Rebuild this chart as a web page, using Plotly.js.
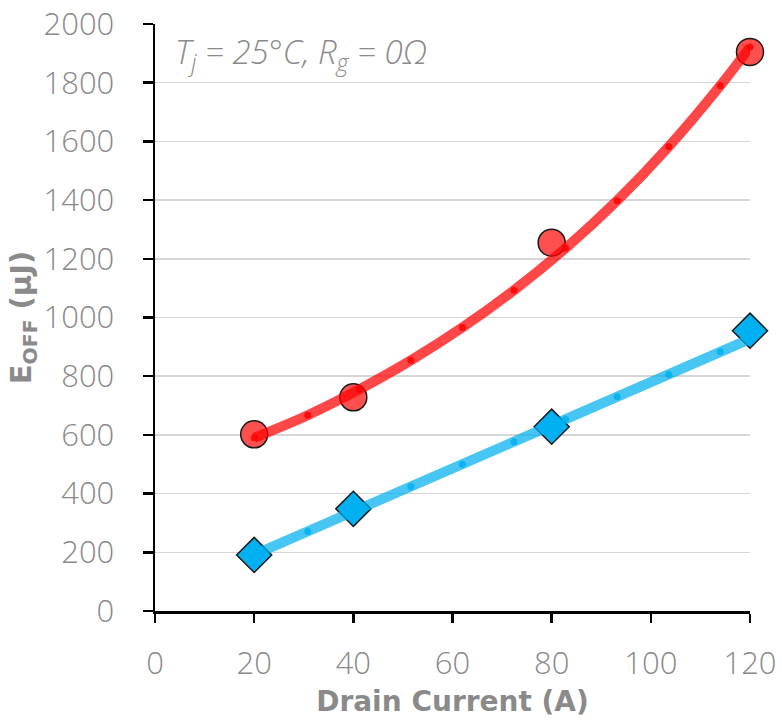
<!DOCTYPE html>
<html><head><meta charset="utf-8">
<script src="https://cdn.plot.ly/plotly-3.0.1.min.js"></script>
<style>body{margin:0;background:#fff}#c{width:782px;height:726px}</style>
</head><body><div id="c"></div>
<script>
// measured points
const current = [20, 40, 80, 120];
const eoffRed = [602, 728, 1255, 1905];
const eoffBlue = [191, 348, 628, 955];
// trendlines
const trendX = [20, 30.8, 41.2, 51.6, 62, 72.4, 82.8, 93.2, 103.6, 114, 120];
const trendRed = [590, 667, 755, 854, 966, 1093, 1236, 1398, 1582, 1790, 1922];
const trendBlue = [192, 271, 348, 424, 500, 577, 653, 730, 806, 883, 927];
const xTicks = [0, 20, 40, 60, 80, 100, 120];
const yTicks = [0, 200, 400, 600, 800, 1000, 1200, 1400, 1600, 1800, 2000];

const FONT = '"Open Sans", Lato, sans-serif';
const BOLD = '"DejaVu Sans", "Open Sans", sans-serif';
const GREY = '#8a8a8a';

const traces = [
  {x: current, y: eoffRed, mode: 'markers', type: 'scatter', showlegend: false, cliponaxis: false,
   marker: {symbol: 'circle', size: 27, color: '#ff5050', line: {color: '#1a1a1a', width: 1.5}}},
  {x: current, y: eoffBlue, mode: 'markers', type: 'scatter', showlegend: false, cliponaxis: false,
   marker: {symbol: 'diamond', size: 27, color: '#00b0f0', line: {color: '#1a1a1a', width: 1.5}}},
  {x: trendX, y: trendRed, mode: 'lines+markers', type: 'scatter', showlegend: false, cliponaxis: false,
   line: {color: 'rgba(255,0,0,0.72)', width: 10, shape: 'spline'},
   marker: {size: 7, color: 'rgba(255,0,0,0.85)'}},
  {x: trendX, y: trendBlue, mode: 'lines+markers', type: 'scatter', showlegend: false, cliponaxis: false,
   line: {color: 'rgba(0,176,240,0.72)', width: 10},
   marker: {size: 7, color: 'rgba(0,176,240,0.85)'}}
];

const layout = {
  width: 782, height: 726,
  margin: {l: 155, r: 32, t: 24, b: 115},
  paper_bgcolor: '#fff', plot_bgcolor: '#fff',
  font: {family: FONT, color: GREY, size: 25},
  xaxis: {
    range: [0, 120], tickvals: xTicks, ticktext: xTicks.map(String),
    showgrid: false, zeroline: false,
    showline: true, linecolor: '#000', linewidth: 2.5,
    ticks: 'outside', ticklen: 9, tickwidth: 2.5, tickcolor: '#000',
    ticklabelstandoff: 14,
    tickfont: {family: FONT, size: 31, color: GREY, weight: 300},
    title: {text: '<b>Drain Current (A)</b>', font: {family: BOLD, size: 28, color: GREY}, standoff: 10},
    fixedrange: true
  },
  yaxis: {
    range: [0, 2000], tickvals: yTicks, ticktext: yTicks.map(String),
    showgrid: true, gridcolor: '#d6d6d6', gridwidth: 1.5, zeroline: false,
    showline: true, linecolor: '#000', linewidth: 2.5,
    ticks: 'outside', ticklen: 10, tickwidth: 2.5, tickcolor: '#000',
    ticklabelstandoff: 22,
    tickfont: {family: FONT, size: 31, color: GREY, weight: 300},
    title: {text: '<b>E<sub>OFF</sub> (µJ)</b>', font: {family: BOLD, size: 29, color: GREY}, standoff: 4},
    fixedrange: true
  },
  annotations: [{
    xref: 'paper', yref: 'paper', x: 0.03, y: 0.995, xanchor: 'left', yanchor: 'top',
    showarrow: false,
    text: '<i>T<sub>j</sub> = 25°C, R<sub>g</sub> = 0Ω</i>',
    font: {family: FONT, size: 33, color: GREY, weight: 300}
  }]
};

Plotly.newPlot('c', traces, layout, {displayModeBar: false, staticPlot: true});
</script></body></html>
